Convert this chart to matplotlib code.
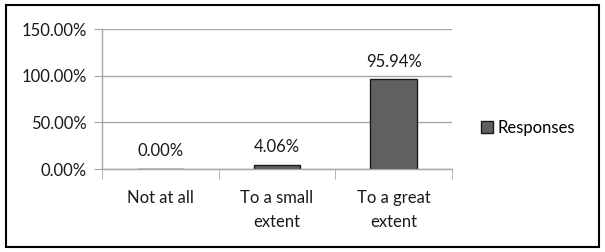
import matplotlib
matplotlib.use("Agg")
import matplotlib.pyplot as plt
from matplotlib.patches import Rectangle

# data
categories = ["Not at all", "To a small\nextent", "To a great\nextent"]
responses = [0.00, 4.06, 95.94]
y_ticks = [0, 50, 100, 150]
series_name = "Responses"

plt.rcParams['font.family'] = ['Lato', 'DejaVu Sans']
plt.rcParams['font.size'] = 12

fig = plt.figure(figsize=(6.05, 2.52), dpi=100)
ax = fig.add_axes([102/605, 83/252, 350/605, 140/252])

grey = "#a6a6a6"
txt = "#1a1a1a"
x = range(len(categories))
bars = ax.bar(x, responses, width=0.4, color="#606060", edgecolor=txt,
              linewidth=1, label=series_name, zorder=2)

for b, v in zip(bars, responses):
    ax.annotate(f"{v:.2f}%", (b.get_x() + b.get_width()/2, b.get_height()),
                xytext=(0, 7), textcoords="offset points",
                ha="center", va="bottom", color=txt)

ax.set_xlim(-0.5, 2.5)
ax.set_ylim(0, 150)
ax.set_yticks(y_ticks)
ax.set_yticklabels([f"{t:.2f}%" for t in y_ticks])
ax.set_xticks(list(x))
ax.set_xticklabels(categories, linespacing=1.6)
ax.set_xticks([-0.5, 0.5, 1.5, 2.5], minor=True)
ax.tick_params(axis="x", which="major", length=0, pad=15, labelcolor=txt)
ax.tick_params(axis="x", which="minor", length=7, color=grey, direction="out")
ax.tick_params(axis="y", length=6, color=grey, direction="out", pad=5, labelcolor=txt)

ax.yaxis.grid(True, color=grey, linewidth=1, zorder=0)
ax.set_axisbelow(True)
for s in ["top", "right"]:
    ax.spines[s].set_visible(False)
for s in ["left", "bottom"]:
    ax.spines[s].set_color(grey)
    ax.spines[s].set_linewidth(1)
    ax.spines[s].set_zorder(3)

fig.legend(handles=[bars], labels=[series_name], loc="center left",
           bbox_to_anchor=(481/605, 1 - 128/252), frameon=False,
           handlelength=0.7, handleheight=0.7, handletextpad=0.3,
           borderpad=0, borderaxespad=0)

# outer border
fig.patches.append(Rectangle((6/605, 5/252), 593/605, 242/252, transform=fig.transFigure,
                             fill=False, edgecolor="black", linewidth=1.5))

fig.savefig("out.png", dpi=100)
